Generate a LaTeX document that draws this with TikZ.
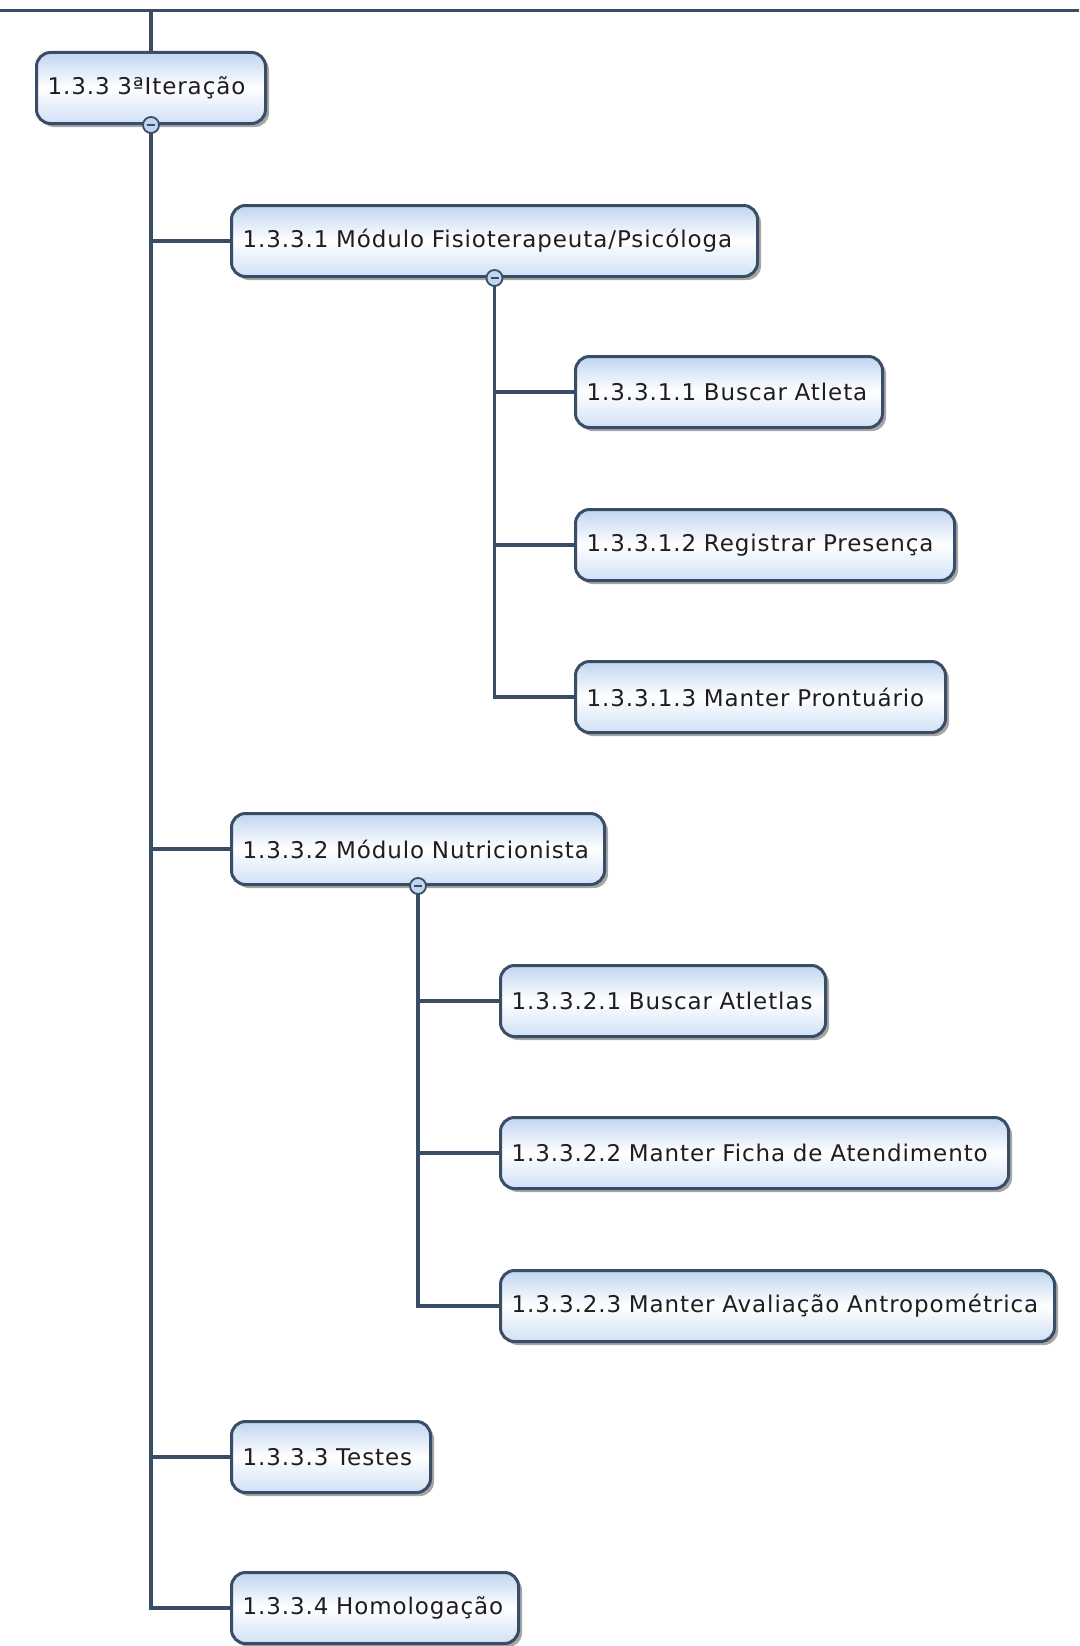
\documentclass[tikz,border=0pt]{standalone}
\usepackage{fontspec}
\setmainfont{DejaVu Sans}[LetterSpace=4]
\usetikzlibrary{shadows}
\definecolor{edgec}{HTML}{3A4D66}
\definecolor{fillt}{HTML}{C0D5F0}
\definecolor{fillb}{HTML}{D0E0F5}
\definecolor{txt}{HTML}{1E1E1E}
\tikzset{
  wbs/.style={draw=edgec, line width=3pt, rounded corners=14pt,
    top color=fillt, bottom color=fillb, middle color=white,
    minimum height=71pt, inner xsep=11pt, anchor=west, align=left,
    font=\fontsize{23}{27}\selectfont, text=txt,
    drop shadow={shadow xshift=3.5pt, shadow yshift=-3.5pt, fill=black, opacity=0.35}},
  link/.style={draw=edgec, line width=3.6pt},
  tog/.style={circle, draw=edgec, line width=1.8pt, fill=fillt, minimum size=16pt, inner sep=0pt,
    path picture={\draw[edgec, line width=2.4pt] ([xshift=-4pt]path picture bounding box.center) -- ([xshift=4pt]path picture bounding box.center);}}
}
\begin{document}
\begin{tikzpicture}[x=1pt,y=-1pt]
\useasboundingbox[fill=white] (0,0) rectangle (1079,1646);
\coordinate (tl) at (0,10.5);
\coordinate (tr) at (1079,10.5);
\draw[link] (tl) -- (tr);

\node[wbs, text width=207pt] (root) at (35,88) {1.3.3 3ªIteração};
\node[wbs, text width=504pt] (n1) at (230,241) {1.3.3.1 Módulo Fisioterapeuta/Psicóloga};
\node[wbs, text width=285pt] (n11) at (574,392) {1.3.3.1.1 Buscar Atleta};
\node[wbs, text width=357pt] (n12) at (574,545) {1.3.3.1.2 Registrar Presença};
\node[wbs, text width=348pt] (n13) at (574,697) {1.3.3.1.3 Manter Prontuário};
\node[wbs, text width=351pt] (n2) at (230,849) {1.3.3.2 Módulo Nutricionista};
\node[wbs, text width=303pt] (n21) at (499,1001) {1.3.3.2.1 Buscar Atletlas};
\node[wbs, text width=486pt] (n22) at (499,1153) {1.3.3.2.2 Manter Ficha de Atendimento};
\node[wbs, text width=532pt] (n23) at (499,1306) {1.3.3.2.3 Manter Avaliação Antropométrica};
\node[wbs, text width=177pt] (n3) at (230,1457) {1.3.3.3 Testes};
\node[wbs, text width=265pt] (n4) at (230,1608) {1.3.3.4 Homologação};

\coordinate (tj) at (root.north |- tl);
\draw[link] (tj) -- (root.north);
\draw[link] (root.south) |- (n1.west);
\draw[link] (root.south) |- (n2.west);
\draw[link] (root.south) |- (n3.west);
\draw[link] (root.south) |- (n4.west);
\draw[link] (n1.south) |- (n11.west);
\draw[link] (n1.south) |- (n12.west);
\draw[link] (n1.south) |- (n13.west);
\draw[link] (n2.south) |- (n21.west);
\draw[link] (n2.south) |- (n22.west);
\draw[link] (n2.south) |- (n23.west);

\node[tog] (t0) at (root.south) {};
\node[tog] (t1) at (n1.south) {};
\node[tog] (t2) at (n2.south) {};
\end{tikzpicture}
\end{document}
